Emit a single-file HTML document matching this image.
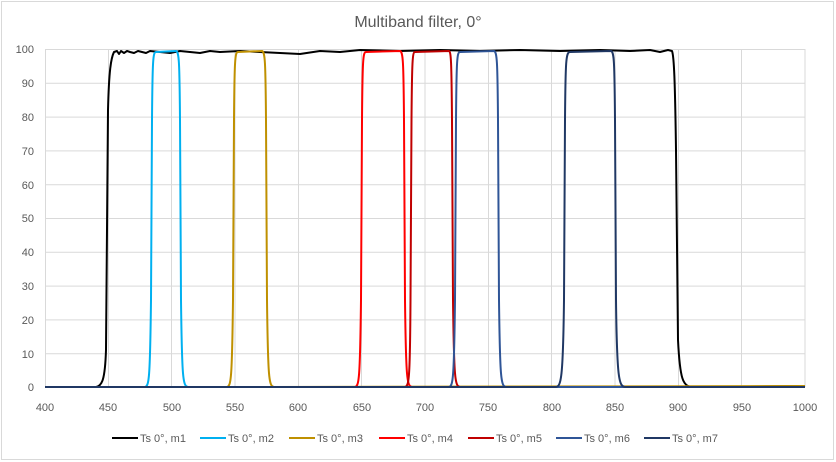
<!DOCTYPE html>
<html><head><meta charset="utf-8"><style>
html,body{margin:0;padding:0;background:#fff}
svg{display:block;font-family:"Liberation Sans",sans-serif}
</style></head><body>
<svg width="836" height="462" viewBox="0 0 836 462">
<rect x="1.5" y="1.5" width="832" height="458" fill="#fff" stroke="#d9d9d9"/>
<text x="418" y="27" text-anchor="middle" font-size="16" fill="#595959">Multiband filter, 0°</text>
<g stroke="#d9d9d9" stroke-width="1">
<line x1="45" y1="49.5" x2="805" y2="49.5"/><line x1="45" y1="83.3" x2="805" y2="83.3"/><line x1="45" y1="117.1" x2="805" y2="117.1"/><line x1="45" y1="150.9" x2="805" y2="150.9"/><line x1="45" y1="184.7" x2="805" y2="184.7"/><line x1="45" y1="218.5" x2="805" y2="218.5"/><line x1="45" y1="252.3" x2="805" y2="252.3"/><line x1="45" y1="286.1" x2="805" y2="286.1"/><line x1="45" y1="319.9" x2="805" y2="319.9"/><line x1="45" y1="353.7" x2="805" y2="353.7"/>
<line x1="45.5" y1="49" x2="45.5" y2="387"/><line x1="108.5" y1="49" x2="108.5" y2="387"/><line x1="171.5" y1="49" x2="171.5" y2="387"/><line x1="235" y1="49" x2="235" y2="387"/><line x1="298.5" y1="49" x2="298.5" y2="387"/><line x1="361.5" y1="49" x2="361.5" y2="387"/><line x1="425" y1="49" x2="425" y2="387"/><line x1="488.5" y1="49" x2="488.5" y2="387"/><line x1="551.5" y1="49" x2="551.5" y2="387"/><line x1="615" y1="49" x2="615" y2="387"/><line x1="678.5" y1="49" x2="678.5" y2="387"/><line x1="741.5" y1="49" x2="741.5" y2="387"/><line x1="805" y1="49" x2="805" y2="387"/>
</g>
<g font-size="11" fill="#595959" text-anchor="end">
<text x="34" y="53">100</text><text x="34" y="87">90</text><text x="34" y="121">80</text><text x="34" y="155">70</text><text x="34" y="189">60</text><text x="34" y="222">50</text><text x="34" y="256">40</text><text x="34" y="290">30</text><text x="34" y="324">20</text><text x="34" y="358">10</text><text x="34" y="391">0</text>
</g>
<g font-size="11" fill="#595959" text-anchor="middle">
<text x="45" y="411">400</text><text x="108" y="411">450</text><text x="172" y="411">500</text><text x="235" y="411">550</text><text x="298" y="411">600</text><text x="362" y="411">650</text><text x="425" y="411">700</text><text x="488" y="411">750</text><text x="552" y="411">800</text><text x="615" y="411">850</text><text x="678" y="411">900</text><text x="742" y="411">950</text><text x="805" y="411">1000</text>
</g>
<g fill="none" stroke-width="2" stroke-linejoin="round">
<path stroke="#000" d="M45,387 L96,387 C102,386 105,380 106,350 L108,110 C109,70 111,58 114,52 L117,51 L119,54 L121,51 L124,53 L127,51 L130,52 L134,53 L138,51 L142,52 L146,53 L150,51 L160,52 L170,53 L180,51 L190,52 L200,53 L210,51 L220,52 L240,51 L260,52 L280,53 L300,54 L320,51 L340,52 L360,50 L400,51 L440,50 L480,51 L520,50 L560,51 L600,50 L630,51 L650,50 L660,52 L668,50 L672,51 C674,56 675,80 676,150 L678,340 C680,380 683,386 692,387 L805,386"/>
<path stroke="#00b0f0" d="M45,387 L145,387 C149,386 150,380 151,300 L152,120 C152.5,60 153,52 156,52 L176,51 C179,52 179.5,60 180,120 L181,300 C182,380 183,386 188,387 L805,387"/>
<path stroke="#bf9000" d="M45,387 L227,387 C231,386 232,380 233,300 L234,120 C234.5,60 235,52 238,52 L262,51 C265,52 265.5,60 266,120 L267,300 C268,380 269,386 274,387 L805,386"/>
<path stroke="#ff0000" d="M45,387 L355,387 C359,386 360,380 361,300 L362,120 C362.5,60 363,52 366,52 L400,51 C403,52 403.5,60 404,120 L405,300 C406,380 407,386 412,387 L805,387"/>
<path stroke="#c00000" d="M45,387 L405,387 C409,386 410,380 410.5,300 L411.5,120 C412,60 412.5,52 415,52 L449,51 C451,52 451.5,60 452,120 L453,300 C454,380 455,386 460,387 L805,387"/>
<path stroke="#2f5597" d="M45,387 L449,387 C453,386 454,380 455,300 L456,120 C456.5,60 457,52 460,52 L494,51 C497,52 497.5,60 498,120 L499,300 C500,380 501,386 506,387 L805,387"/>
<path stroke="#203864" d="M45,387 L556,387 C561,386 563,380 564,300 L565,120 C565.5,60 566,52 570,52 L611,51 C614,52 614.5,60 615,120 L616,300 C617,380 619,386 625,387 L805,387"/>
</g>
<g font-size="11" fill="#595959" stroke-width="2">
<line x1="112" y1="438" x2="138" y2="438" stroke="#000"/><text x="140" y="442">Ts 0°, m1</text>
<line x1="200" y1="438" x2="226" y2="438" stroke="#00b0f0"/><text x="228" y="442">Ts 0°, m2</text>
<line x1="289" y1="438" x2="315" y2="438" stroke="#bf9000"/><text x="317" y="442">Ts 0°, m3</text>
<line x1="379" y1="438" x2="405" y2="438" stroke="#ff0000"/><text x="407" y="442">Ts 0°, m4</text>
<line x1="468" y1="438" x2="494" y2="438" stroke="#c00000"/><text x="496" y="442">Ts 0°, m5</text>
<line x1="556" y1="438" x2="582" y2="438" stroke="#2f5597"/><text x="584" y="442">Ts 0°, m6</text>
<line x1="644" y1="438" x2="670" y2="438" stroke="#203864"/><text x="672" y="442">Ts 0°, m7</text>
</g>
</svg>
</body></html>
